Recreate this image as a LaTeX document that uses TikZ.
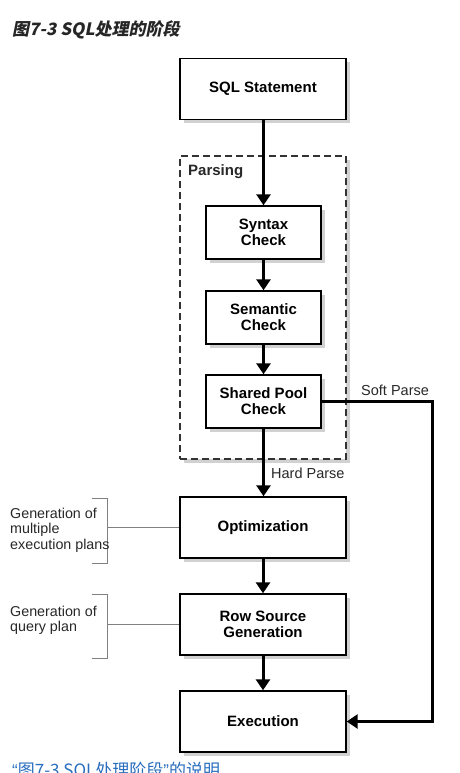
\documentclass[tikz,border=0pt]{standalone}
\usepackage{fontspec}
\setmainfont{Liberation Sans}
\newfontfamily\cjk{Noto Sans CJK SC}
\newfontfamily\cjktitle[FakeSlant=0.2]{Noto Sans CJK SC}
\usetikzlibrary{arrows.meta,shadows}
\definecolor{capblue}{RGB}{41,110,190}
\definecolor{txtgray}{RGB}{40,40,40}
\begin{document}
\begin{tikzpicture}[x=1pt,y=-1pt,
  shad/.style={drop shadow={shadow xshift=4pt,shadow yshift=-4pt,fill=black!18,opacity=1}},
  bigbox/.style={draw=black,line width=1.4pt,fill=white,shad,minimum width=166pt,minimum height=61pt,inner sep=0pt,align=center,font=\bfseries\fontsize{15}{16}\selectfont},
  smallbox/.style={draw=black,line width=1.4pt,fill=white,shad,minimum width=115pt,minimum height=53pt,inner sep=0pt,align=center,font=\bfseries\fontsize{15}{16}\selectfont},
  dashbox/.style={draw=black!80,line width=1.5pt,dash pattern=on 7pt off 4pt,fill=white,shad,minimum width=166pt,minimum height=303pt,inner sep=0pt},
  arr/.style={line width=3pt,-{Triangle[width=14pt,length=11pt]}},
  brk/.style={draw=black!50,line width=1pt},
  lbl/.style={inner sep=0pt,anchor=west,text=txtgray,font=\fontsize{14.5}{16}\selectfont},
  side/.style={inner sep=0pt,anchor=west,align=left,text=txtgray,font=\fontsize{14.3}{15.5}\selectfont}
]
\useasboundingbox (0,0) rectangle (459,773);
\fill[white] (0,0) rectangle (459,773);

\node[inner sep=0pt,anchor=west,text=black!85,font=\fontsize{17}{18}\selectfont] (title) at (12,30) {\cjktitle\bfseries 图7-3 SQL处理的阶段};

\node[dashbox] (parse) at (263,307.5) {};
\node[inner sep=0pt,anchor=west,font=\bfseries\fontsize{15}{16}\selectfont,text=txtgray] (plab) at (188,172) {Parsing};

\node[bigbox] (sql) at (263,89) {SQL Statement};
\node[smallbox] (syn) at (263.5,232.5) {Syntax\\Check};
\node[smallbox] (sem) at (263.5,317.5) {Semantic\\Check};
\node[smallbox] (spc) at (263.5,401.5) {Shared Pool\\Check};
\node[bigbox] (opt) at (263,527.5) {Optimization};
\node[bigbox] (rsg) at (263,624.5) {Row Source\\Generation};
\node[bigbox] (exe) at (263,721.5) {Execution};

\draw[arr] (sql.south -| syn) -- (syn);
\draw[arr] (syn) -- (sem);
\draw[arr] (sem) -- (spc);
\draw[arr] (spc) -- (spc |- opt.north);
\draw[arr] (opt) -- (rsg);
\draw[arr] (rsg) -- (exe);

\coordinate (c1) at (432,401.5);
\draw[arr,line join=miter] (spc.east) -- (c1) |- (exe.east);

\node[lbl] (hp) at (271,473) {Hard Parse};
\node[lbl] (sp) at (361,390) {Soft Parse};

\draw[brk] (92,498) -- (107,498) -- (107,563) -- (92,563);
\coordinate (b1) at (107,527.5);
\draw[brk] (b1) -- (opt.west);
\draw[brk] (92,594) -- (107,594) -- (107,658) -- (92,658);
\coordinate (b2) at (107,624.5);
\draw[brk] (b2) -- (rsg.west);

\node[side] (g1) at (10,530) {Generation of\\multiple\\execution plans};
\node[side] (g2) at (10,620.5) {Generation of\\query plan};

\node[inner sep=0pt,anchor=base west,text=capblue,font=\fontsize{17}{18}\selectfont] (cap) at (12,776) {{\rmfamily “}\cjk 图7-3 SQL处理阶段{\rmfamily ”}的说明};
\end{tikzpicture}
\end{document}
